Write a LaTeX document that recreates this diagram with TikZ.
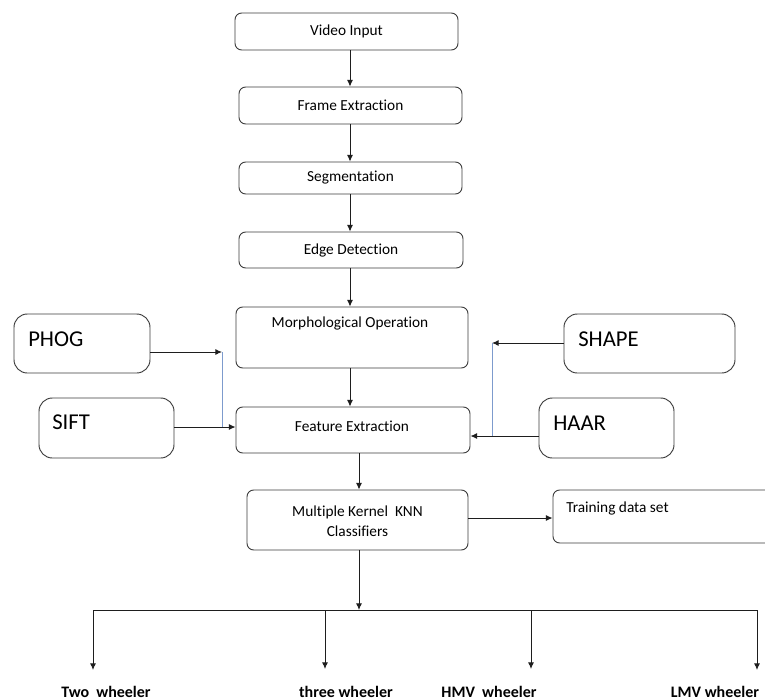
\documentclass[tikz,border=0pt]{standalone}
\usepackage{fontspec}
\setmainfont[Ligatures=NoCommon]{Carlito}
\usetikzlibrary{arrows.meta}
\definecolor{bord}{RGB}{60,60,60}
\definecolor{lin}{RGB}{30,30,30}
\definecolor{bluel}{RGB}{125,155,205}
\begin{document}
\begin{tikzpicture}[x=0.75pt,y=-0.75pt,
  rbox/.style={draw=bord, line width=0.7pt, rounded corners=5pt, inner sep=0pt},
  bbox/.style={draw=bord, line width=0.7pt, rounded corners=10pt, inner sep=0pt},
  txt/.style={inner sep=0pt, font=\fontsize{11.5}{14}\selectfont},
  big/.style={inner sep=0pt, anchor=west, font=\fontsize{17}{20}\selectfont},
  lab/.style={inner sep=0pt, font=\bfseries\fontsize{12}{14}\selectfont},
  arr/.style={draw=lin, line width=0.7pt, -{Latex[length=5pt,width=4.5pt]}},
  ln/.style={draw=lin, line width=0.7pt},
  bl/.style={draw=bluel, line width=0.7pt}]
\clip (0,0) rectangle (765,700);
\fill[white] (0,0) rectangle (765,700);

% main column
\node[rbox, minimum width={223*0.75pt}, minimum height={37*0.75pt}] (video) at (346.5,31.5) {};
\node[txt] (videot) at (video.center) {Video Input};
\node[rbox, minimum width={223*0.75pt}, minimum height={37*0.75pt}] (frame) at (350.5,105.5) {};
\node[txt] (framet) at (frame.center) {Frame Extraction};
\node[rbox, minimum width={223*0.75pt}, minimum height={32*0.75pt}] (seg) at (350.5,178) {};
\node[txt] (segt) at (seg.center) {Segmentation};
\node[rbox, minimum width={224*0.75pt}, minimum height={36*0.75pt}] (edge) at (351,250) {};
\node[txt] (edget) at (edge.center) {Edge Detection};
\node[rbox, minimum width={232*0.75pt}, minimum height={61*0.75pt}] (morph) at (352,337.5) {};
\node[txt] (morpht) at (350,323) {Morphological Operation};
\node[rbox, minimum width={234*0.75pt}, minimum height={46*0.75pt}] (feat) at (353,430) {};
\node[txt] (featt) at (352,426) {Feature Extraction};
\node[rbox, minimum width={221*0.75pt}, minimum height={60*0.75pt}] (knn) at (357.5,520) {};
\node[txt, align=center, font=\fontsize{11.5}{15}\selectfont] (knnt) at (357.5,521) {Multiple Kernel\ \ KNN\\Classifiers};
\node[rbox, minimum width={227*0.75pt}, minimum height={53*0.75pt}] (train) at (666.5,516.5) {};
\node[txt, anchor=west] (traint) at (566,508) {Training data set};

% side boxes
\node[bbox, minimum width={136*0.75pt}, minimum height={59*0.75pt}] (phog) at (82,343.5) {};
\node[big] (phogt) at (28,339.5) {PHOG};
\node[bbox, minimum width={135*0.75pt}, minimum height={60*0.75pt}] (sift) at (106.5,428) {};
\node[big] (siftt) at (52,422.5) {SIFT};
\node[bbox, minimum width={171*0.75pt}, minimum height={59*0.75pt}] (shape) at (649.5,343.5) {};
\node[big] (shapet) at (578,339) {SHAPE};
\node[bbox, minimum width={135*0.75pt}, minimum height={60*0.75pt}] (haar) at (606.5,428) {};
\node[big] (haart) at (553,423) {HAAR};

% column arrows
\coordinate (ax) at (350,0);
\coordinate (bx) at (359,0);
\draw[arr] (ax |- video.south) -- (ax |- frame.north);
\draw[arr] (ax |- frame.south) -- (ax |- seg.north);
\draw[arr] (ax |- seg.south) -- (ax |- edge.north);
\draw[arr] (ax |- edge.south) -- (ax |- morph.north);
\draw[arr] (ax |- morph.south) -- (ax |- feat.north);
\draw[arr] (bx |- feat.south) -- (bx |- knn.north);

% left feature inputs
\coordinate (pj) at (222,352);
\coordinate (sj) at (222,427);
\draw[arr] (phog.east |- pj) -- (pj);
\draw[bl] (pj) -- (sj);
\draw[arr] (sift.east |- sj) -- (feat.west |- sj);

% right feature inputs
\coordinate (hj) at (492,343);
\coordinate (rj) at (492,436);
\draw[arr] (shape.west |- hj) -- (hj);
\draw[bl] (hj) -- (rj);
\draw[arr] (haar.west |- rj) -- (feat.east |- rj);

% training
\draw[arr] (knn.east |- 0,518) -- (train.west |- 0,518);

% output tree
\coordinate (j) at (359,610);
\coordinate (b1) at (93,610);
\coordinate (b2) at (325,610);
\coordinate (b3) at (531,610);
\coordinate (b4) at (757,610);
\coordinate (t1) at (93,670);
\coordinate (t2) at (325,669);
\coordinate (t3) at (531,669);
\coordinate (t4) at (757,670);
\draw[arr] (bx |- knn.south) -- (j);
\draw[ln] (b1) -- (b4);
\draw[arr] (b1) -- (t1);
\draw[arr] (b2) -- (t2);
\draw[arr] (b3) -- (t3);
\draw[arr] (b4) -- (t4);

\node[lab, anchor=base] (two) at (106,697) {Two\ \ wheeler};
\node[lab, anchor=base] (three) at (346,697) {three wheeler};
\node[lab, anchor=base] (hmv) at (489,697) {HMV\ \ wheeler};
\node[lab, anchor=base] (lmv) at (715,697) {LMV wheeler};
\end{tikzpicture}
\end{document}
